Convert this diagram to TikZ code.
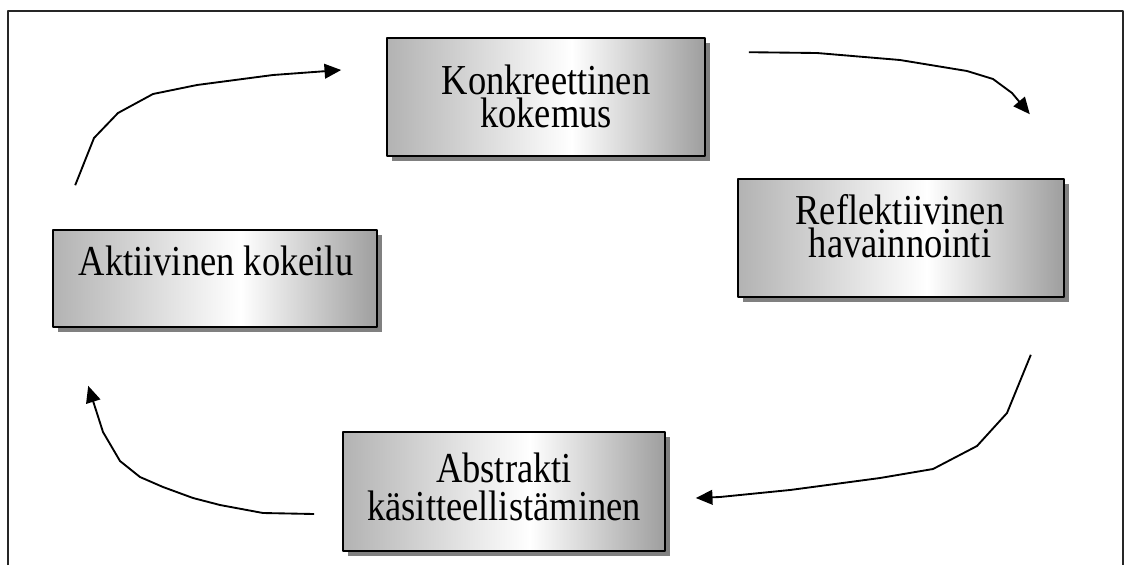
\documentclass[tikz,border=0pt]{standalone}
\usepackage{fontspec}
\setmainfont{Liberation Serif}
\newfontfamily\boxfont[FakeStretch=0.855]{Liberation Serif}
\usetikzlibrary{arrows.meta,shadows}
\pgfdeclarehorizontalshading{panelfill}{100bp}{color(0bp)=(black!30); color(25bp)=(black!30); color(54bp)=(white); color(75bp)=(black!38); color(100bp)=(black!38)}

\begin{document}
\begin{tikzpicture}[
    x=0.75pt, y=-0.75pt, >={Triangle[length=12.5pt,width=11pt]}, line join=round,
    panel/.style ={draw=black, line width=1.2pt, shading=panelfill, inner sep=0pt,
                   drop shadow={shadow xshift=3.8pt, shadow yshift=-3.8pt, fill=black!50, opacity=1}},
    txt/.style   ={font=\boxfont\fontsize{32pt}{#1}\selectfont, align=center, inner sep=0pt},
    txt/.default =24.5pt,
    flow/.style  ={->, line width=1.4pt},
    frame/.style ={draw=black!85, line width=1.5pt}
]
\useasboundingbox (0,0) rectangle (1124,565);

% outer frame (open at the bottom)
\draw[frame] (8,565) -- (8,11) -- (1122.5,11) -- (1122.5,565);

% the four stages
\node[panel, minimum width=238.5pt, minimum height=88.5pt] (konk) at (546,97) {};
\node[txt] (konktxt) at (546,96.5) {Konkreettinen\\kokemus};

\node[panel, minimum width=244.5pt, minimum height=88.5pt] (refl) at (901,238) {};
\node[txt=25pt] (refltxt) at (900,226) {Reflektiivinen\\havainnointi};

\node[panel, minimum width=241.5pt, minimum height=89.25pt] (abst) at (504,491.5) {};
\node[txt=28.5pt] (absttxt) at (504,486.5) {Abstrakti\\käsitteellistäminen};

\node[panel, minimum width=243pt, minimum height=72.75pt] (aktiv) at (215,278.5) {};
\node[txt] (aktivtxt) at (216,260.5) {Aktiivinen kokeilu};

% cycle arrows
\draw[flow] ([shift={(23,-44)}]aktiv.north west) -- (94,138) -- (118,113) -- (153,94)
  -- (197,85) -- (273,75) -- ([shift={(-45,-27)}]konk.west);
\draw[flow] ([shift={(43,15)}]konk.north east) -- (817,53) -- (900,60) -- (967,71)
  -- (993,79) -- (1012,93) -- ([shift={(-35,-64)}]refl.north east);
\draw[flow] ([shift={(-34,57)}]refl.south east) -- (1007,413) -- (977,446) -- (933,469)
  -- (880,478) -- (790,490) -- (720,497) -- ([shift={(30,6.5)}]abst.east);
\draw[flow] ([shift={(-28,22.5)}]abst.west) -- (263,513) -- (220,505) -- (193,498)
  -- (163,487) -- (140,477) -- (120,461) -- (103,432) -- ([shift={(36,58)}]aktiv.south west);
\end{tikzpicture}
\end{document}
